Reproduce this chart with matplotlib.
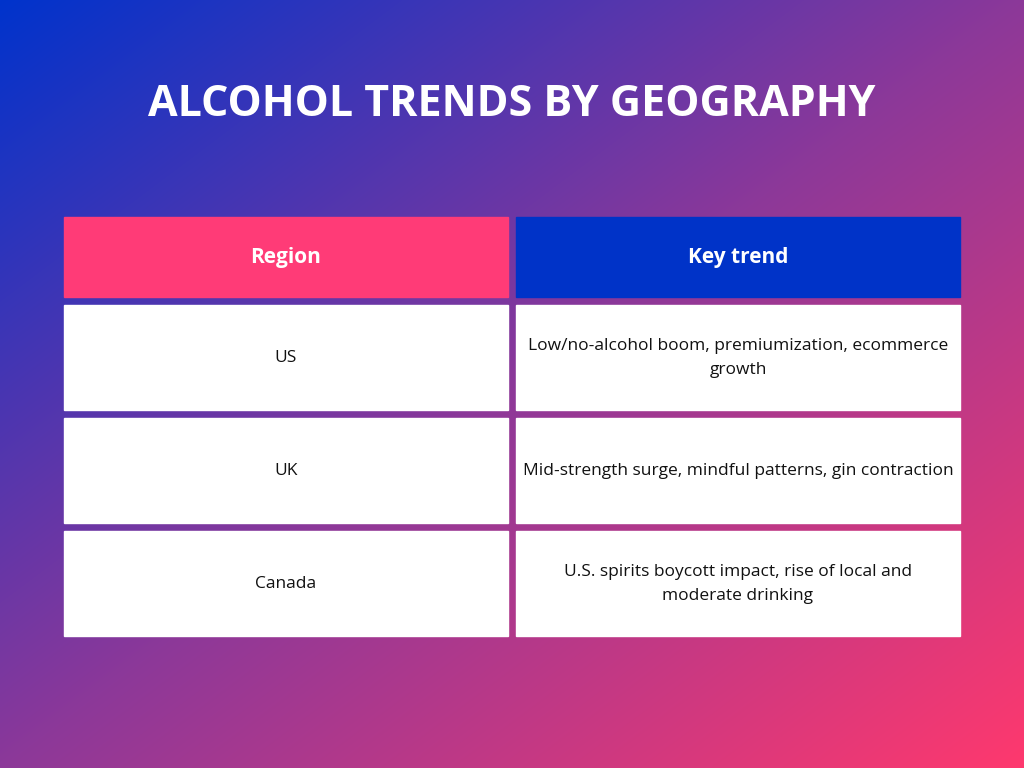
import numpy as np
import matplotlib
matplotlib.use("Agg")
import matplotlib.pyplot as plt
from matplotlib.patches import Rectangle

title = "ALCOHOL TRENDS BY GEOGRAPHY"
headers = ["Region", "Key trend"]
regions = ["US", "UK", "Canada"]
trends = ["Low/no-alcohol boom, premiumization, ecommerce\ngrowth",
          "Mid-strength surge, mindful patterns, gin contraction",
          "U.S. spirits boycott impact, rise of local and\nmoderate drinking"]

W, H = 1024, 768
fig = plt.figure(figsize=(W/100, H/100), dpi=100)
ax = fig.add_axes([0, 0, 1, 1])
ax.set_xlim(0, W); ax.set_ylim(H, 0); ax.axis("off")

# diagonal gradient background
yy, xx = np.mgrid[0:H, 0:W]
t = (xx / W + yy / H) / 2.0
c0 = np.array([0.0, 0.2, 0.8]); cm = np.array([0.55, 0.22, 0.6]); c1 = np.array([1.0, 0.22, 0.43])
img = np.where(t[..., None] < 0.5,
               c0 + (cm - c0) * (t[..., None] / 0.5),
               cm + (c1 - cm) * ((t[..., None] - 0.5) / 0.5))
ax.imshow(img, extent=(0, W, H, 0), zorder=0, aspect="auto")

ax.text(512, 105, title, color="white", fontsize=31, fontweight="bold",
        family="Open Sans", ha="center", va="center")

cols = [(64, 508), (516, 960)]
hdr_colors = ["#ff3b77", "#0033c8"]
for (x0, x1), h, c in zip(cols, headers, hdr_colors):
    ax.add_patch(Rectangle((x0, 217), x1 - x0, 80, color=c, zorder=1))
    ax.text((x0 + x1) / 2, 258, h, color="white", fontsize=15, fontweight="bold",
            family="Open Sans", ha="center", va="center", zorder=2)

row_tops = [305, 418, 531]
for top, r, tr in zip(row_tops, regions, trends):
    for (x0, x1), txt in zip(cols, [r, tr]):
        ax.add_patch(Rectangle((x0, top), x1 - x0, 105, color="white", zorder=1))
        ax.text((x0 + x1) / 2, top + 53, txt, color="#111111", fontsize=12.5,
                family="Open Sans", ha="center", va="center", linespacing=1.6, zorder=2)

fig.savefig("out.png", dpi=100)
